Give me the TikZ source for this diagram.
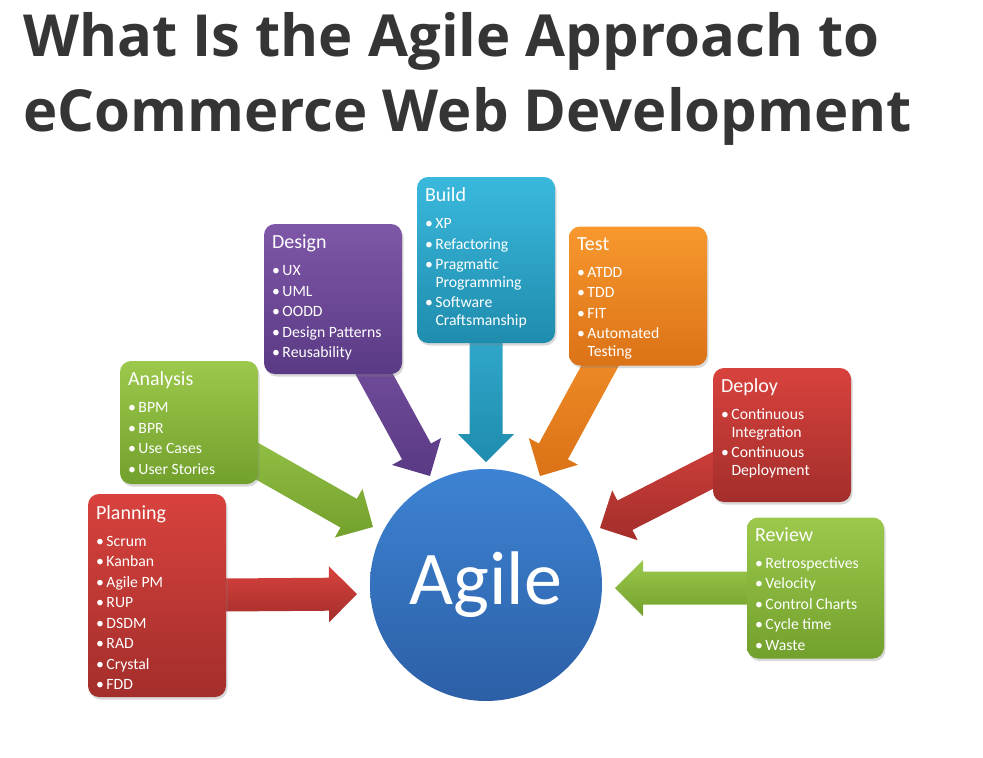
\documentclass[tikz,border=0pt]{standalone}
\usepackage{fontspec}
\setmainfont{Carlito}
\newfontfamily\titlefont{Open Sans}
\usetikzlibrary{calc,shadows,backgrounds}

\definecolor{titleGray}{HTML}{353535}
\definecolor{redTop}{HTML}{D8423D}
\definecolor{redBot}{HTML}{A32E2B}
\definecolor{greenTop}{HTML}{9CC94C}
\definecolor{greenBot}{HTML}{72A02C}
\definecolor{purpleTop}{HTML}{7F57A8}
\definecolor{purpleBot}{HTML}{5A3A84}
\definecolor{cyanTop}{HTML}{3AB9DD}
\definecolor{cyanBot}{HTML}{1F8CAD}
\definecolor{orangeTop}{HTML}{F8982E}
\definecolor{orangeBot}{HTML}{DB7217}
\definecolor{blueTop}{HTML}{3D83D3}
\definecolor{blueBot}{HTML}{2C5FA6}

% heading and bullet lines inside the cards
\newcommand\cardhead[1]{{\fontsize{20}{24}\selectfont #1}}
\newcommand\itm{\makebox[10.5pt][l]{\textbullet}}
\newcommand\cont{\hspace*{10.5pt}}

% fat arrow from a card (its centre, hidden under the card) to a tip point
\newcommand\blockarrow[4]{%
  \coordinate (#4-b) at ($(#4)!28pt!(#3)$);
  \path[top color=#1,bottom color=#2]
    ($(#3)!16.5pt!90:(#4)$) -- ($(#4-b)!16.5pt!90:(#4)$)
    -- ($(#4-b)!28pt!90:(#4)$) -- (#4) -- ($(#4-b)!28pt!-90:(#4)$)
    -- ($(#4-b)!16.5pt!-90:(#4)$) -- ($(#3)!16.5pt!-90:(#4)$) -- cycle;
}

\begin{document}
\begin{tikzpicture}[
  x=1pt,y=-1pt,
  font=\fontsize{15.7}{17.5}\selectfont,
  card/.style={rounded corners=11pt,minimum width=138pt,inner sep=0pt,
               drop shadow={shadow xshift=1.5pt,shadow yshift=-2.5pt,opacity=.3}},
  red card/.style={card,top color=redTop,bottom color=redBot},
  green card/.style={card,top color=greenTop,bottom color=greenBot},
  cardtext/.style={anchor=north west,align=left,inner sep=0pt,text=white},
  hub/.style={circle,minimum size=232pt,inner sep=0pt,top color=blueTop,
              bottom color=blueBot,text=white,font=\fontsize{76}{80}\selectfont},
]
\useasboundingbox (0,0) rectangle (983,758);

% ---- title ----
\node[anchor=north west,align=left,inner sep=0pt,text=titleGray,
      font=\titlefont\bfseries\fontsize{58}{75}\selectfont] (title) at (23,12)
     {What Is the Agile Approach to\\eCommerce Web Development};

% ---- hub ----
\node[hub] (agile) at (486,585) {\raisebox{-5pt}{Agile}};

% ---- cards, left to right ----
\node[red card,minimum height=203pt] (plan) at (157,595.5) {};
\node[cardtext] (planText) at ([xshift=8pt,yshift=-11.5pt]plan.north west)
     {\cardhead{Planning}\\[9.5pt]
      \itm Scrum\\[3pt] \itm Kanban\\[3pt] \itm Agile PM\\[3pt] \itm RUP\\[3pt]
      \itm DSDM\\[3pt] \itm RAD\\[3pt] \itm Crystal\\[3pt] \itm FDD};

\node[green card,minimum width=138pt,minimum height=123pt] (anal) at (189,422.5) {};
\node[cardtext] (analText) at ([xshift=8pt,yshift=-11pt]anal.north west)
     {\cardhead{Analysis}\\[9.5pt]
      \itm BPM\\[3pt] \itm BPR\\[3pt] \itm Use Cases\\[3pt] \itm User Stories};

\node[card,top color=purpleTop,bottom color=purpleBot,minimum height=150pt]
     (design) at (333,299) {};
\node[cardtext] (designText) at ([xshift=8pt,yshift=-11pt]design.north west)
     {\cardhead{Design}\\[9.5pt]
      \itm UX\\[3pt] \itm UML\\[3pt] \itm OODD\\[3pt] \itm Design Patterns\\[3pt]
      \itm Reusability};

\node[card,top color=cyanTop,bottom color=cyanBot,minimum height=166pt]
     (build) at (486,260) {};
\node[cardtext] (buildText) at ([xshift=8pt,yshift=-11pt]build.north west)
     {\cardhead{Build}\\[9.5pt]
      \itm XP\\[3pt] \itm Refactoring\\[3pt] \itm Pragmatic\\ \cont Programming\\[3pt]
      \itm Software\\ \cont Craftsmanship};

\node[card,top color=orangeTop,bottom color=orangeBot,minimum height=139pt]
     (test) at (638,296) {};
\node[cardtext] (testText) at ([xshift=8pt,yshift=-11pt]test.north west)
     {\cardhead{Test}\\[9.5pt]
      \itm ATDD\\[3pt] \itm TDD\\[3pt] \itm FIT\\[3pt] \itm Automated\\ \cont Testing};

\node[red card,minimum height=134pt] (deploy) at (782,435) {};
\node[cardtext] (deployText) at ([xshift=8pt,yshift=-11pt]deploy.north west)
     {\cardhead{Deploy}\\[9.5pt]
      \itm Continuous\\ \cont Integration\\[3pt] \itm Continuous\\ \cont Deployment};

\node[green card,minimum width=137pt,minimum height=141pt] (review) at (815.5,588) {};
\node[cardtext] (reviewText) at ([xshift=8pt,yshift=-10pt]review.north west)
     {\cardhead{Review}\\[9.5pt]
      \itm Retrospectives\\[3pt] \itm Velocity\\[3pt] \itm Control Charts\\[3pt]
      \itm Cycle time\\[3pt] \itm Waste};

% ---- arrow tips, just short of the hub ----
\coordinate (planTip) at (357,594);
\coordinate (analTip) at (373,527);
\coordinate (designTip) at (430,476);
\coordinate (buildTip) at (486,462);
\coordinate (testTip) at (540,476);
\coordinate (deployTip) at (600,528);
\coordinate (reviewTip) at (615,588);

\begin{scope}[on background layer]
  \blockarrow{redTop}{redBot}{plan}{planTip}
  \blockarrow{greenTop}{greenBot}{anal}{analTip}
  \blockarrow{purpleTop}{purpleBot}{design}{designTip}
  \blockarrow{cyanTop}{cyanBot}{build}{buildTip}
  \blockarrow{orangeTop}{orangeBot}{test}{testTip}
  \blockarrow{redTop}{redBot}{deploy}{deployTip}
  \blockarrow{greenTop}{greenBot}{review}{reviewTip}
\end{scope}

\end{tikzpicture}
\end{document}
